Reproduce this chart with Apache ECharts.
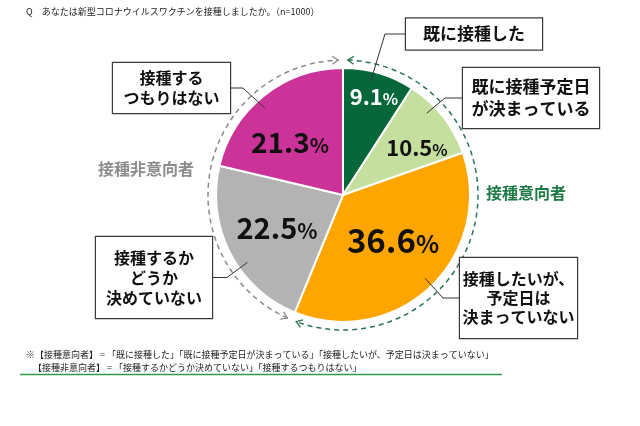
<!DOCTYPE html>
<html><head><meta charset="utf-8">
<script src="https://cdn.jsdelivr.net/npm/echarts@6/dist/echarts.min.js"></script>
<style>html,body{margin:0;padding:0;background:#fff}#c{width:640px;height:426px}</style>
</head><body><div id="c"></div>
<script>
// ---- data ----
const categories = ['既に接種した','既に接種予定日が決まっている','接種したいが、予定日は決まっていない','接種するかどうか決めていない','接種するつもりはない'];
const calloutTexts = ['既に接種した','既に接種予定日\nが決まっている','接種したいが、\n予定日は\n決まっていない','接種するか\nどうか\n決めていない','接種する\nつもりはない'];
const values = [9.1, 10.5, 36.6, 22.5, 21.3];
const groupLabels = ['接種意向者','接種非意向者'];
const groupSizes = [3, 2];
const titleText = 'Q　あなたは新型コロナウイルスワクチンを接種しましたか。（n=1000）';
const noteLines = ['※【接種意向者】 = 「既に接種した」「既に接種予定日が決まっている」「接種したいが、予定日は決まっていない」',
                   '【接種非意向者】 = 「接種するかどうか決めていない」「接種するつもりはない」'];

// ---- styles / layout ----
const FONT = '"Noto Sans CJK JP", "Noto Sans", sans-serif';
const colors = ['#05673a','#c5df9f','#ffa500','#b3b3b3','#cc3399'];
const CX = 343, CY = 195, R = 127, ARC_R = 135;
const pctPos = [[374,97],[417,148],[393,240],[277,228],[290,142]];
const pctSize = [[22,16],[22,16],[33,24],[29,21],[28,20]];
const pctColor = ['#fff','#111','#111','#111','#111'];
const boxes = [{x:474,y:34,w:138,h:31,fs:17,lh:20},{x:531,y:98,w:138,h:60,fs:17,lh:22},{x:518.5,y:298,w:119,h:80,fs:16,lh:19},{x:154,y:277.5,w:118,h:81,fs:16,lh:20},{x:171.5,y:88,w:119,h:50,fs:16,lh:20}];
const anchorShift = [-2.7,-6,-1,-8,-3.6];
const anchorR = 117;
const elbowDx = [20,17,16,14,12];

const total = values.reduce((a,b)=>a+b,0);
const cum = []; values.reduce((a,v,i)=>{cum[i]=a; return a+v;},0);
function midAngleDeg(i){ return 360*(cum[i]+values[i]/2)/total; }

const chart = echarts.init(document.getElementById('c'), null, {renderer:'canvas'});

const pctData = values.map((v,i)=>({
  name: categories[i], value: v,
  itemStyle:{color: colors[i]},
  label:{rich:{n:{fontSize:pctSize[i][0],fontWeight:'bold',color:pctColor[i],fontFamily:FONT},
               p:{fontSize:pctSize[i][1],fontWeight:'bold',color:pctColor[i],fontFamily:FONT,padding:[pctSize[i][0]-pctSize[i][1]-2,0,0,0]}}}
}));

const calloutData = values.map((v,i)=>{
  const b = boxes[i];
  const n = calloutTexts[i].split('\n').length;
  const padY = Math.max(0,(b.h - n*b.lh)/2);
  return {name: calloutTexts[i], value: v,
    label:{fontSize:b.fs, lineHeight:b.lh, width:b.w-2, padding:[padY,0,padY,0]}};
});

function arrow(theta, dir, color){
  const px = CX + ARC_R*Math.cos(theta), py = CY + ARC_R*Math.sin(theta);
  const tx = -Math.sin(theta)*dir, ty = Math.cos(theta)*dir;
  const nx = Math.cos(theta), ny = Math.sin(theta);
  const L = 6, W = 4;
  return {type:'polyline', silent:true, shape:{points:[[px-L*tx+W*nx, py-L*ty+W*ny],[px,py],[px-L*tx-W*nx, py-L*ty-W*ny]]},
          style:{stroke:color, lineWidth:1.3, fill:null}};
}

const willFrac = values.slice(0,groupSizes[0]).reduce((a,b)=>a+b,0)/total;
const TOP_A = -Math.PI/2, SPLIT_A = TOP_A + 2*Math.PI*willFrac, GAP_A = 0.035;
const GREEN = '#2a7552', GRAY = '#8a8a8a';

const graphics = [
  {type:'arc', silent:true, shape:{cx:CX,cy:CY,r:ARC_R,startAngle:TOP_A+GAP_A,endAngle:SPLIT_A-GAP_A,clockwise:true},
   style:{stroke:GREEN,lineWidth:1.5,lineDash:[5,4],fill:null}},
  {type:'arc', silent:true, shape:{cx:CX,cy:CY,r:ARC_R,startAngle:SPLIT_A+GAP_A,endAngle:TOP_A+2*Math.PI-GAP_A,clockwise:true},
   style:{stroke:GRAY,lineWidth:1.5,lineDash:[5,4],fill:null}},
  arrow(TOP_A+GAP_A,-1,GREEN), arrow(SPLIT_A-GAP_A,1,GREEN),
  arrow(SPLIT_A+GAP_A,-1,GRAY), arrow(TOP_A+2*Math.PI-GAP_A,1,GRAY),
  {type:'text', silent:true, x:526, y:193, style:{text:groupLabels[0], fill:'#1f7a45', font:'bold 16px '+FONT, align:'center', verticalAlign:'middle'}},
  {type:'text', silent:true, x:146, y:169, style:{text:groupLabels[1], fill:'#8c8c8c', font:'bold 16px '+FONT, align:'center', verticalAlign:'middle'}},
  {type:'text', silent:true, x:26, y:12, style:{text:titleText, fill:'#222', font:'9px '+FONT, align:'left', verticalAlign:'middle'}},
  {type:'text', silent:true, x:26, y:355, style:{text:noteLines[0], fill:'#222', font:'9px '+FONT, align:'left', verticalAlign:'middle'}},
  {type:'text', silent:true, x:33, y:368, style:{text:noteLines[1], fill:'#222', font:'9px '+FONT, align:'left', verticalAlign:'middle'}},
  {type:'line', silent:true, shape:{x1:20,y1:374.5,x2:502,y2:374.5}, style:{stroke:'#2e9a4c', lineWidth:1.5}}
];

chart.setOption({
  animation:false,
  backgroundColor:'#fff',
  graphic: graphics,
  series:[
    {
      type:'pie', center:[CX,CY], radius:[0,R], startAngle:90, clockwise:true,
      avoidLabelOverlap:false, silent:true,
      itemStyle:{borderColor:'#fff', borderWidth:2},
      label:{show:true, position:'inside', formatter:p=>'{n|'+p.value.toFixed(1)+'}{p|%}'},
      labelLine:{show:false},
      labelLayout: p=>({x:pctPos[p.dataIndex][0], y:pctPos[p.dataIndex][1], align:'center', verticalAlign:'middle'}),
      data: pctData, z:2
    },
    {
      type:'pie', center:[CX,CY], radius:[0,R], startAngle:90, clockwise:true,
      avoidLabelOverlap:false, silent:true,
      itemStyle:{color:'rgba(0,0,0,0)'},
      emphasis:{disabled:true},
      label:{show:true, position:'outside', formatter:p=>p.name, color:'#111', fontWeight:'bold', fontFamily:FONT,
             backgroundColor:'#fff', borderColor:'#3a3a3a', borderWidth:1.2, align:'center'},
      labelLine:{show:true, smooth:false, lineStyle:{color:'#333', width:1}},
      labelLayout: function(p){
        const i = p.dataIndex, b = boxes[i];
        const a = (midAngleDeg(i)+anchorShift[i])*Math.PI/180;
        const ax = CX + anchorR*Math.sin(a), ay = CY - anchorR*Math.cos(a);
        const left = b.x < CX;
        const ex = left ? b.x + b.w/2 : b.x - b.w/2;
        const kx = left ? ex + elbowDx[i] : ex - elbowDx[i];
        return {x:b.x, y:b.y, align:'center', verticalAlign:'middle', labelLinePoints:[[ax,ay],[kx,b.y],[ex,b.y]]};
      },
      data: calloutData, z:3
    }
  ]
});
</script></body></html>
